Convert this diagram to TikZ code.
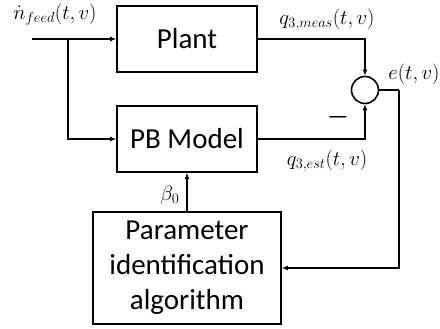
\documentclass[tikz,border=0pt]{standalone}
\usepackage[no-math]{fontspec}
\setmainfont{Carlito}
\usetikzlibrary{arrows.meta}
\begin{document}
\begin{tikzpicture}[x=1pt,y=-1pt,
  blk/.style={draw,line width=1.6pt,inner sep=0pt,font=\fontsize{29}{35}\selectfont,align=center},
  wire/.style={line width=1.6pt,-{Latex[length=6pt,width=5pt]}},
  lbl/.style={font=\fontsize{21.5}{24}\selectfont,inner sep=0pt}]
\useasboundingbox (0,0) rectangle (440,329);
\node[blk,minimum width=140pt,minimum height=66pt] (plant) at (187,39) {Plant};
\node[blk,minimum width=140pt,minimum height=66pt] (pb) at (187,139) {PB Model};
\node[blk,minimum width=188pt,minimum height=112pt] (param) at (187,268) {Parameter\\identification\\algorithm};
\node[draw,circle,line width=1.6pt,minimum size=27pt,inner sep=0pt] (sum) at (365,90) {};
\coordinate (in) at (32,39);
\coordinate (br) at (68,39);
\coordinate (corner) at (399,90);
\draw[wire] (in) -- (plant.west);
\draw[wire] (br) |- (pb.west);
\draw[wire] (plant.east) -| (sum.north);
\draw[wire] (pb.east) -| (sum.south);
\draw[line width=1.6pt] (sum.east) -- (corner);
\draw[wire] (corner) |- (param.east);
\draw[wire] (param.north) -- (pb.south);
\node[lbl] (lin) at (55,15) {$\dot{n}_{feed}(t,v)$};
\node[lbl] (lmeas) at (327,20) {$q_{3,meas}(t,v)$};
\node[lbl] (le) at (414,74) {$e(t,v)$};
\node[lbl] (lest) at (327,161) {$q_{3,est}(t,v)$};
\node[lbl] (lbeta) at (170,195) {$\beta_0$};
\node[lbl,font=\fontsize{24}{24}\selectfont\boldmath] (minus) at (338,117) {$-$};
\end{tikzpicture}
\end{document}
